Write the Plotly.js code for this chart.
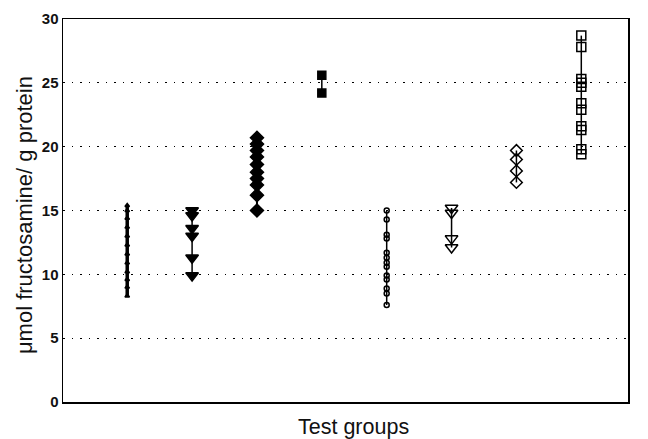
<!DOCTYPE html>
<html>
<head>
<meta charset="utf-8">
<script src="https://cdn.plot.ly/plotly-3.0.1.min.js"></script>
<style>html,body{margin:0;padding:0;background:#fff;}#chart{width:648px;height:439px;}</style>
</head>
<body>
<div id="chart"></div>
<script>
const groupPositions = [1, 2, 3, 4, 5, 6, 7, 8];
const group1 = [8.3, 9.0, 9.6, 10.2, 10.9, 11.6, 12.3, 13.0, 13.7, 14.4, 15.0, 15.4];
const group2 = [15.0, 14.6, 13.6, 13.0, 11.3, 9.9];
const group3 = [20.7, 20.2, 19.7, 19.2, 18.6, 18.0, 17.5, 17.0, 16.2, 15.0];
const group4 = [25.6, 24.2];
const group5 = [15.0, 14.3, 13.1, 12.8, 11.7, 11.3, 10.9, 10.6, 9.9, 9.6, 8.9, 8.5, 7.6];
const group6 = [15.2, 14.8, 12.8, 12.1];
const group7 = [19.7, 19.0, 18.1, 17.2];
const group8 = [28.7, 27.8, 25.3, 25.0, 24.7, 23.4, 22.9, 21.6, 21.3, 19.8, 19.4];
const yTicks = [0, 5, 10, 15, 20, 25, 30];

const groups = [group1, group2, group3, group4, group5, group6, group7, group8];
const symbols = ['triangle-up', 'triangle-down', 'diamond', 'square', 'circle-open', 'triangle-down-open', 'diamond-open', 'square-open'];
const sizes = [4, 11, 10, 8, 5, 11, 9, 9];
const lineWidths = [3.5, 1.5, 2, 1.5, 1.5, 1.5, 1.5, 1.5];

const traces = groups.map((vals, i) => ({
  x: vals.map(() => groupPositions[i]),
  y: vals,
  type: 'scatter',
  mode: 'lines+markers',
  line: {color: '#000', width: lineWidths[i]},
  marker: {symbol: symbols[i], size: sizes[i], color: '#000', line: {color: '#000', width: 1.5}},
  showlegend: false,
  hoverinfo: 'skip'
}));

const layout = {
  width: 648, height: 439,
  margin: {l: 63, r: 20, t: 19, b: 37},
  paper_bgcolor: '#fff', plot_bgcolor: '#fff',
  font: {family: 'Liberation Sans, Arial, sans-serif', color: '#000'},
  xaxis: {
    range: [0.01, 8.72], showticklabels: false, ticks: '', showgrid: false, zeroline: false,
    showline: true, linecolor: '#000', linewidth: 1.5, mirror: true
  },
  yaxis: {
    range: [0, 30], tickvals: yTicks, ticktext: yTicks.map(String), ticks: '',
    tickfont: {size: 15, color: '#111', weight: 'bold'},
    showgrid: true, gridcolor: '#000', gridwidth: 1.3, griddash: '1.5px,7px', zeroline: false,
    showline: true, linecolor: '#000', linewidth: 1.5, mirror: true
  },
  annotations: [{
    text: 'Test groups', xref: 'paper', yref: 'paper', x: (353 - 63) / 565, y: 0, yshift: -25,
    xanchor: 'center', yanchor: 'middle', showarrow: false, font: {size: 21.5, color: '#111'}
  }, {
    text: '\u03bcmol fructosamine/ g protein', xref: 'paper', yref: 'paper', x: 0, xshift: -39, y: 0.488,
    xanchor: 'center', yanchor: 'middle', textangle: -90, showarrow: false, font: {size: 22, color: '#111'}
  }]
};

Plotly.newPlot('chart', traces, layout, {displayModeBar: false, staticPlot: true});
</script>
</body>
</html>
